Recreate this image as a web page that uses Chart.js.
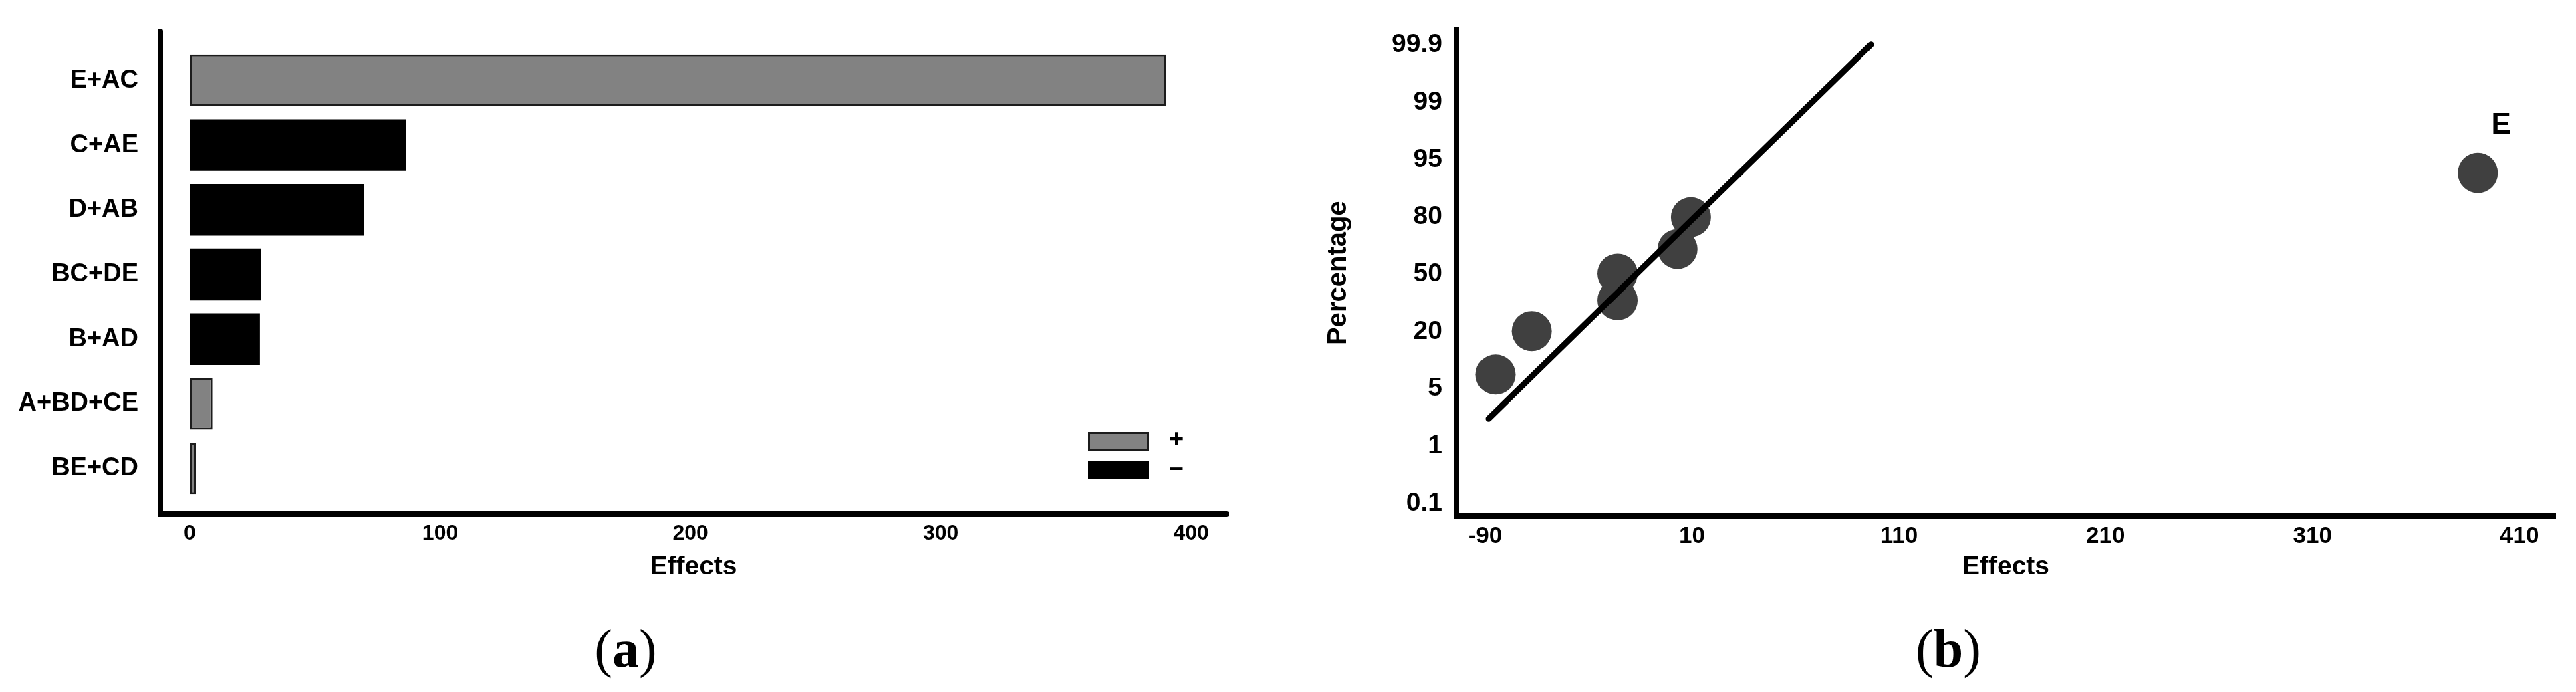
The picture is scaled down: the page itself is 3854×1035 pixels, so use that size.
<!DOCTYPE html>
<html><head><meta charset="utf-8">
<script src="https://cdn.jsdelivr.net/npm/chart.js@4.4.1/dist/chart.umd.min.js"></script>
<style>
html,body{margin:0;padding:0;background:#fff;}
body{width:3854px;height:1035px;position:relative;overflow:hidden;}
#wa{position:absolute;left:0;top:0;width:1900px;height:1035px;}
#wb{position:absolute;left:1900px;top:0;width:1954px;height:1035px;}
.cap{position:absolute;top:926px;font-family:"Liberation Serif","Times New Roman",serif;font-size:80px;line-height:88px;transform:translateX(-50%);color:#000;white-space:nowrap;}
</style></head><body>
<div id="wa"><canvas id="ca"></canvas></div>
<div id="wb"><canvas id="cb"></canvas></div>
<div class="cap" style="left:936px">(<b>a</b>)</div>
<div class="cap" style="left:2915px">(<b>b</b>)</div>
<script>
// ---- Panel (a): Pareto of effects ----
const categoriesA = ['E+AC', 'C+AE', 'D+AB', 'BC+DE', 'B+AD', 'A+BD+CE', 'BE+CD'];
const effectsA = [390, 86.5, 69.5, 28.3, 28, 9, 2.4];
const signsA = ['+', '–', '–', '–', '–', '+', '+'];
const xTicksA = [0, 100, 200, 300, 400];

// ---- Panel (b): normal probability plot ----
const effectsB = [-85, -67.5, -26, -26, 3, 9.5, 390];
const percentPosB = [2.25, 3.01, 3.55, 4.01, 4.44, 5.0, 5.77];
const pointLabelsB = ['', '', '', '', '', '', 'E'];
const percentTicksB = ['0.1', '1', '5', '20', '50', '80', '95', '99', '99.9'];
const xTicksB = [-90, 10, 110, 210, 310, 410];
const fitLineX = [-88.4, 96.5];
const fitLineY = [1.48, 8.01];

const FONT = '"Liberation Sans", Arial, Helvetica, sans-serif';
Chart.defaults.font.family = FONT;
Chart.defaults.color = '#000';

const posData = effectsA.map((v, i) => signsA[i] === '+' ? v : null);
const negData = effectsA.map((v, i) => signsA[i] === '–' ? v : null);

const axesA = {
  id: 'axesA',
  afterDraw(chart) {
    const {ctx, chartArea: a} = chart;
    ctx.save();
    ctx.strokeStyle = '#000';
    ctx.lineWidth = 8;
    ctx.lineJoin = 'miter';
    ctx.lineCap = 'round';
    ctx.beginPath();
    ctx.moveTo(a.left, a.top - 25);
    ctx.lineTo(a.left, a.bottom + 20);
    ctx.lineTo(a.right, a.bottom + 20);
    ctx.stroke();
    ctx.restore();
  }
};

const legendA = {
  id: 'legendA',
  afterDraw(chart) {
    const {ctx, chartArea: a} = chart;
    ctx.save();
    let y = a.bottom - 103;
    chart.data.datasets.forEach(ds => {
      const x = a.right - 207;
      ctx.fillStyle = ds.backgroundColor;
      ctx.fillRect(x, y, 91, 28);
      if (ds.borderWidth) {
        ctx.lineWidth = 3;
        ctx.strokeStyle = ds.borderColor;
        ctx.strokeRect(x + 1.5, y + 1.5, 88, 25);
      }
      ctx.fillStyle = '#000';
      ctx.font = 'bold 38px ' + FONT;
      ctx.textAlign = 'center';
      ctx.textBaseline = 'middle';
      ctx.fillText(ds.label, a.right - 75, y + 13);
      y += 43;
    });
    ctx.restore();
  }
};

new Chart(document.getElementById('ca'), {
  type: 'bar',
  data: {
    labels: categoriesA,
    datasets: [
      {label: '+', data: posData, backgroundColor: '#828282', borderColor: '#1c1c1c', borderWidth: 3,
       borderSkipped: false, grouped: false, barPercentage: 0.8, categoryPercentage: 1},
      {label: '–', data: negData, backgroundColor: '#000000', borderColor: '#000000', borderWidth: 0,
       grouped: false, barPercentage: 0.8, categoryPercentage: 1}
    ]
  },
  options: {
    indexAxis: 'y',
    responsive: true,
    maintainAspectRatio: false,
    animation: false,
    layout: {padding: {left: 0, right: 65, top: 72, bottom: 133}},
    plugins: {legend: {display: false}, tooltip: {enabled: false}},
    scales: {
      x: {
        type: 'linear', min: -11.75, max: 414.1,
        afterBuildTicks: s => { s.ticks = xTicksA.map(v => ({value: v})); },
        afterFit: s => { s.height = 153; },
        grid: {display: false, drawTicks: false},
        border: {display: false},
        ticks: {padding: 30, color: '#000', font: {size: 32, weight: 'bold'}},
        title: {display: true, text: 'Effects', color: '#000', font: {size: 39, weight: 'bold'}, padding: {top: 0, bottom: 30.6}}
      },
      y: {
        afterFit: s => { s.width = 240; },
        grid: {display: false, drawTicks: false},
        border: {display: false},
        ticks: {padding: 33, color: '#000', font: {size: 38, weight: 'bold'}}
      }
    }
  },
  plugins: [axesA, legendA]
});

// ---- Panel (b) ----
const pointLabelPlugin = {
  id: 'pointLabels',
  afterDatasetsDraw(chart) {
    const {ctx} = chart;
    const meta = chart.getDatasetMeta(1);
    ctx.save();
    ctx.fillStyle = '#000';
    ctx.font = 'bold 44px ' + FONT;
    ctx.textAlign = 'center';
    ctx.textBaseline = 'middle';
    meta.data.forEach((el, i) => {
      const t = pointLabelsB[i];
      if (t) ctx.fillText(t, el.x + 35, el.y - 71);
    });
    ctx.restore();
  }
};

new Chart(document.getElementById('cb'), {
  type: 'scatter',
  data: {
    datasets: [
      {type: 'line', label: 'fit', data: fitLineX.map((x, i) => ({x: x, y: fitLineY[i]})),
       borderColor: '#000', borderWidth: 9, pointRadius: 0, fill: false, tension: 0, borderCapStyle: 'round'},
      {label: 'effects', data: effectsB.map((x, i) => ({x: x, y: percentPosB[i]})),
       backgroundColor: '#404040', borderWidth: 0, pointRadius: 30, pointHoverRadius: 30}
    ]
  },
  options: {
    responsive: true,
    maintainAspectRatio: false,
    animation: false,
    layout: {padding: {left: 0, right: 31, top: 40, bottom: 133}},
    plugins: {legend: {display: false}, tooltip: {enabled: false}},
    scales: {
      x: {
        type: 'linear', min: -103.9, max: 427.4,
        afterBuildTicks: s => { s.ticks = xTicksB.map(v => ({value: v})); },
        afterFit: s => { s.height = 130; },
        grid: {display: false, drawTicks: false},
        border: {display: true, color: '#000', width: 8},
        ticks: {padding: 9, color: '#000', font: {size: 35, weight: 'bold'}},
        title: {display: true, text: 'Effects', color: '#000', font: {size: 39, weight: 'bold'}, padding: {top: 0, bottom: 30.6}}
      },
      y: {
        type: 'linear', min: -0.22, max: 8.27,
        afterBuildTicks: s => { s.ticks = percentTicksB.map((t, i) => ({value: i})); },
        afterFit: s => { s.width = 279; },
        grid: {display: false, drawTicks: false},
        border: {display: true, color: '#000', width: 8},
        ticks: {padding: 21, color: '#000', font: {size: 39, weight: 'bold'},
                callback: v => percentTicksB[v]},
        title: {display: true, text: 'Percentage', color: '#000', font: {size: 40, weight: 'bold'}, padding: {top: 79, bottom: 0}}
      }
    }
  },
  plugins: [pointLabelPlugin]
});
</script>
</body></html>
